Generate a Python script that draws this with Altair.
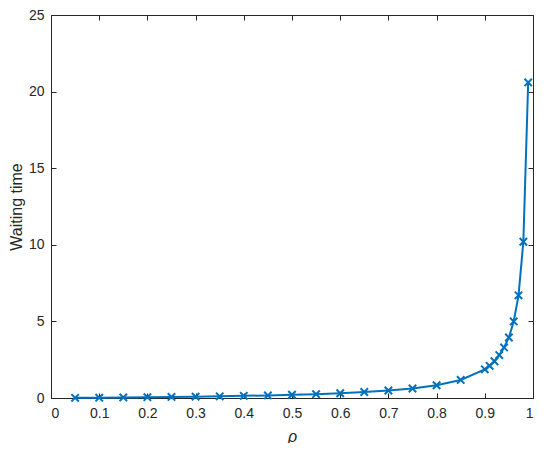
import altair as alt
import pandas as pd

rho = [0.05, 0.10, 0.15, 0.20, 0.25, 0.30, 0.35, 0.40, 0.45, 0.50, 0.55, 0.60,
       0.65, 0.70, 0.75, 0.80, 0.85, 0.90, 0.91, 0.92, 0.93, 0.94, 0.95, 0.96,
       0.97, 0.98, 0.99]
wait = [0.011, 0.023, 0.037, 0.052, 0.069, 0.089, 0.11, 0.14, 0.17, 0.21, 0.25,
        0.31, 0.39, 0.49, 0.62, 0.83, 1.18, 1.87, 2.1, 2.4, 2.8, 3.3, 3.95, 5.0,
        6.7, 10.2, 20.6]

x_ticks = [0, 0.1, 0.2, 0.3, 0.4, 0.5, 0.6, 0.7, 0.8, 0.9, 1]
y_ticks = [0, 5, 10, 15, 20, 25]

df = pd.DataFrame({"rho": rho, "wait": wait})

W, H = 482, 383
BLUE = "#0072BD"
AX = "#262626"

x = alt.X("rho:Q", scale=alt.Scale(domain=[0, 1], nice=False),
          axis=alt.Axis(values=x_ticks, title="ρ", format="~g", grid=True,
                        gridDash=[5, H - 10], gridColor=AX, gridOpacity=1,
                        ticks=False, domain=False, labelPadding=8,
                        titleFontStyle="italic", titlePadding=8))
y = alt.Y("wait:Q", scale=alt.Scale(domain=[0, 25], nice=False),
          axis=alt.Axis(values=y_ticks, title="Waiting time", grid=True,
                        gridDash=[5, W - 10], gridColor=AX, gridOpacity=1,
                        ticks=False, domain=False, labelPadding=7,
                        titlePadding=4))

base = alt.Chart(df)
line = base.mark_line(color=BLUE, strokeWidth=2).encode(x=x, y=y)
pts = base.mark_point(shape="M-1,-1L1,1M1,-1L-1,1", filled=False, color=BLUE,
                      strokeWidth=2, size=55, opacity=1).encode(x=x, y=y)

chart = (line + pts).properties(
    width=W, height=H,
    autosize=alt.AutoSizeParams(type="none"),
    padding={"left": 43, "top": 7, "right": 9, "bottom": 45},
).configure_view(stroke=AX, strokeWidth=1).configure_axis(
    labelFont="Liberation Sans", titleFont="Liberation Sans",
    labelFontSize=14, titleFontSize=16, labelColor=AX, titleColor=AX,
    titleFontWeight="normal", gridWidth=1,
)

chart.save("out.html", embed_options={"renderer": "svg", "actions": False})
